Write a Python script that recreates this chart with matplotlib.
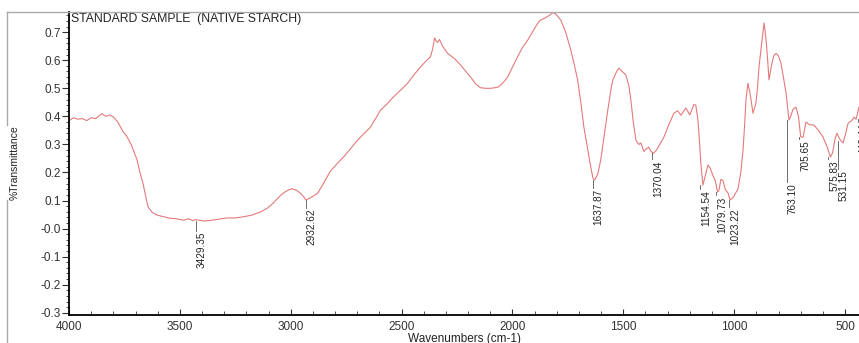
import matplotlib
matplotlib.use("Agg")
import matplotlib.pyplot as plt
from matplotlib.lines import Line2D
from matplotlib.ticker import MultipleLocator, FixedLocator, FixedFormatter
import numpy as np

plt.rcParams['font.family'] = ['Liberation Sans', 'DejaVu Sans']

# spectrum (wavenumber, %T)
wavenumber = [4000, 3980, 3960, 3940, 3920, 3900, 3880, 3865, 3851, 3835, 3815, 3800,
              3780, 3756, 3740, 3720, 3693, 3680, 3666, 3650, 3643, 3625, 3603, 3570,
              3544, 3515, 3485, 3460, 3440, 3431, 3415, 3390, 3363, 3330, 3286, 3250,
              3214, 3175, 3137, 3105, 3079, 3050, 3033, 3010, 2993, 2975, 2957, 2940,
              2932, 2910, 2880, 2860, 2821, 2790, 2762, 2730, 2699, 2670, 2640, 2615,
              2595, 2565, 2537, 2505, 2473, 2445, 2415, 2390, 2370, 2360, 2351, 2344,
              2338, 2329, 2315, 2293, 2260, 2234, 2210, 2189, 2165, 2144, 2120, 2098,
              2080, 2062, 2040, 2022, 2000, 1977, 1955, 1931, 1910, 1886, 1873, 1850,
              1830, 1818, 1805, 1782, 1760, 1737, 1720, 1706, 1690, 1678, 1662, 1647,
              1637, 1629, 1615, 1602, 1585, 1570, 1555, 1547, 1530, 1520, 1505, 1489,
              1475, 1466, 1455, 1443, 1430, 1421, 1407, 1395, 1385, 1375, 1365, 1350,
              1317, 1295, 1272, 1255, 1240, 1228, 1218, 1207, 1200, 1188, 1182, 1173,
              1164, 1159, 1150, 1141, 1130, 1118, 1108, 1096, 1085, 1075, 1069, 1060,
              1051, 1040, 1028, 1018, 1005, 995, 983, 970, 960, 952, 947, 938,
              928, 915, 902, 895, 888, 876, 865, 856, 848, 843, 832, 822,
              811, 800, 789, 778, 766, 753, 745, 735, 721, 710, 700, 689,
              676, 660, 640, 620, 599, 580, 566, 556, 545, 536, 525, 509,
              500, 486, 470, 459, 450, 437]
transmittance = [0.385, 0.395, 0.390, 0.392, 0.385, 0.395, 0.392, 0.402, 0.410, 0.400, 0.405, 0.398,
                 0.380, 0.345, 0.330, 0.300, 0.245, 0.200, 0.160, 0.100, 0.077, 0.058, 0.048, 0.042,
                 0.037, 0.035, 0.030, 0.035, 0.028, 0.032, 0.030, 0.027, 0.029, 0.033, 0.038, 0.038,
                 0.042, 0.048, 0.059, 0.073, 0.091, 0.115, 0.127, 0.138, 0.142, 0.137, 0.127, 0.112,
                 0.102, 0.110, 0.125, 0.150, 0.205, 0.232, 0.255, 0.285, 0.315, 0.338, 0.362, 0.395,
                 0.422, 0.445, 0.469, 0.493, 0.518, 0.547, 0.576, 0.597, 0.612, 0.640, 0.680, 0.668,
                 0.664, 0.674, 0.650, 0.625, 0.605, 0.583, 0.560, 0.540, 0.515, 0.502, 0.500, 0.500,
                 0.502, 0.505, 0.522, 0.540, 0.575, 0.612, 0.645, 0.672, 0.700, 0.732, 0.743, 0.752,
                 0.762, 0.770, 0.765, 0.743, 0.700, 0.637, 0.580, 0.530, 0.440, 0.362, 0.290, 0.220,
                 0.180, 0.173, 0.195, 0.244, 0.340, 0.422, 0.500, 0.530, 0.560, 0.572, 0.560, 0.548,
                 0.510, 0.458, 0.380, 0.315, 0.300, 0.305, 0.275, 0.285, 0.290, 0.275, 0.268, 0.280,
                 0.326, 0.370, 0.411, 0.420, 0.404, 0.418, 0.430, 0.415, 0.405, 0.430, 0.442, 0.440,
                 0.390, 0.340, 0.230, 0.155, 0.190, 0.227, 0.215, 0.190, 0.170, 0.130, 0.135, 0.175,
                 0.172, 0.140, 0.127, 0.102, 0.110, 0.125, 0.140, 0.200, 0.280, 0.380, 0.458, 0.518,
                 0.480, 0.411, 0.447, 0.500, 0.576, 0.660, 0.733, 0.672, 0.590, 0.530, 0.580, 0.615,
                 0.625, 0.615, 0.590, 0.540, 0.483, 0.387, 0.400, 0.425, 0.433, 0.400, 0.327, 0.326,
                 0.380, 0.370, 0.369, 0.350, 0.326, 0.290, 0.255, 0.270, 0.320, 0.340, 0.320, 0.305,
                 0.330, 0.376, 0.385, 0.397, 0.390, 0.433]

peaks = [3429.35, 2932.62, 1637.87, 1370.04, 1154.54, 1079.73, 1023.22,
         763.10, 705.65, 575.83, 531.15, 442.44]
peak_labels = ['3429.35', '2932.62', '1637.87', '1370.04', '1154.54', '1079.73',
               '1023.22', '763.10', '705.65', '575.83', '531.15', '442.44']

y_ticks = [-0.3, -0.2, -0.1, 0.0, 0.1, 0.2, 0.3, 0.4, 0.5, 0.6, 0.7]
y_ticklabels = ['-0.3', '-0.2', '-0.1', '-0.0', '0.1', '0.2', '0.3', '0.4', '0.5', '0.6', '0.7']

fig = plt.figure(figsize=(8.59, 3.43), dpi=100)
ax = fig.add_axes([69/859, 28/343, 790/859, 303/343])

ax.plot(wavenumber, transmittance, color='#e47a7a', lw=0.8)
ax.set_xlim(4000, 437)
ax.set_ylim(-0.308, 0.772)

# label top for each peak annotation (layout)
label_top = [-0.012, 0.07, 0.14, 0.244, 0.137, 0.113, 0.073, 0.162, 0.316, 0.244, 0.209, 0.376]
w_asc = np.array(wavenumber)[::-1]
t_asc = np.array(transmittance)[::-1]
for p, lab, top in zip(peaks, peak_labels, label_top):
    win = np.linspace(p - 15, p + 15, 31)
    yc = np.interp(win, w_asc, t_asc).min()
    ax.plot([p, p], [yc, top + 0.005], color='#555555', lw=0.6)
    ax.text(p - 4, top, lab, rotation=90, ha='left', va='top', fontsize=7.2, color='#222222')

ax.text(0.003, 0.998, 'STANDARD SAMPLE  (NATIVE STARCH)', transform=ax.transAxes,
        ha='left', va='top', fontsize=8.8, color='#222222')

ax.spines['top'].set_visible(False)
ax.spines['right'].set_visible(False)
ax.spines['left'].set_linewidth(1.3)
ax.spines['bottom'].set_linewidth(1.3)

ax.xaxis.set_major_locator(MultipleLocator(500))
ax.xaxis.set_minor_locator(MultipleLocator(100))
ax.tick_params(axis='x', which='both', direction='in', labelsize=8.5, pad=4, colors='#333333')
ax.tick_params(axis='x', which='major', length=4)
ax.tick_params(axis='x', which='minor', length=3)
ax.yaxis.set_major_locator(FixedLocator(y_ticks))
ax.yaxis.set_major_formatter(FixedFormatter(y_ticklabels))
ax.yaxis.set_minor_locator(MultipleLocator(0.02))
ax.tick_params(axis='y', which='both', direction='out', labelsize=8.5, pad=1, colors='#333333')
ax.tick_params(axis='y', which='major', length=5)
ax.tick_params(axis='y', which='minor', length=2.5)

ax.set_xlabel('Wavenumbers (cm-1)', fontsize=8.5, labelpad=0, color='#222222')
fig.text(15/859, 1 - 163/343, '%Transmittance', rotation=90, ha='center', va='center',
         fontsize=7.5, color='#222222')

# outer grey frame
fig.add_artist(Line2D([7/859, 1], [1 - 12/343, 1 - 12/343], color='#aaaaaa', lw=1))
fig.add_artist(Line2D([7/859, 7/859], [1 - 12/343, 1 - 125/343], color='#aaaaaa', lw=1))
fig.add_artist(Line2D([7/859, 7/859], [1 - 200/343, 0], color='#aaaaaa', lw=1))

fig.savefig('out.png', dpi=100)
